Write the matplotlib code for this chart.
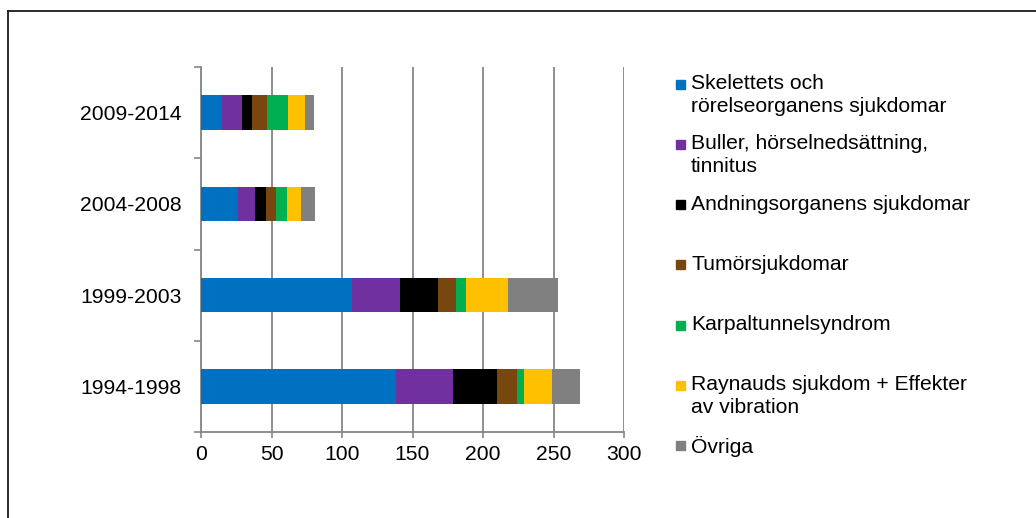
import numpy as np
import matplotlib.pyplot as plt
from matplotlib.lines import Line2D
from matplotlib.patches import Rectangle

plt.rcParams['font.family'] = ['Liberation Sans', 'DejaVu Sans']

periods = ['1994-1998', '1999-2003', '2004-2008', '2009-2014']
categories = ['Skelettets och\nrörelseorganens sjukdomar',
              'Buller, hörselnedsättning,\ntinnitus',
              'Andningsorganens sjukdomar',
              'Tumörsjukdomar',
              'Karpaltunnelsyndrom',
              'Raynauds sjukdom + Effekter\nav vibration',
              'Övriga']
colors = ['#0070C0', '#7030A0', '#000000', '#78460F', '#00B050', '#FFC000', '#808080']

# values per category, ordered like periods
skelett = [138, 107, 26, 15]
buller = [41, 34, 12, 14]
andning = [31, 27, 8, 7]
tumor = [14, 13, 7, 11]
karpal = [5, 7, 8, 15]
raynaud = [20, 30, 10, 12]
ovriga = [20, 35, 10, 6]
series = [skelett, buller, andning, tumor, karpal, raynaud, ovriga]

W, H = 1036, 518
fs = 15.2
fig = plt.figure(figsize=(W / 100, H / 100), dpi=100)
ax = fig.add_axes([201 / W, 1 - 432 / H, 423 / W, 365 / H])

y = np.arange(len(periods))
left = np.zeros(len(periods))
for vals, col in zip(series, colors):
    ax.barh(y, vals, left=left, height=0.38, color=col, zorder=3)
    left += np.array(vals)

ax.set_xlim(0, 300)
ax.set_ylim(-0.5, len(periods) - 0.5)
ax.set_xticks(np.arange(0, 301, 50))
ax.set_yticks(y)
ax.set_yticklabels(periods)
ax.set_yticks(np.arange(-0.5, len(periods)), minor=True)
ax.tick_params(axis='y', which='major', length=0, pad=14, labelsize=fs)
ax.tick_params(axis='y', which='minor', length=5, width=1.2, color='#868686')
ax.tick_params(axis='x', length=4, width=1.2, color='#868686', pad=5, labelsize=fs)
ax.grid(axis='x', color='#868686', linewidth=1.3, zorder=0)
for s in ['top', 'right']:
    ax.spines[s].set_visible(False)
for s in ['left', 'bottom']:
    ax.spines[s].set_color('#868686')
    ax.spines[s].set_linewidth(1.3)

# legend drawn by hand to match entry layout
lx = 680 / W
tx = 691 / W
for i, (lab, col) in enumerate(zip(categories, colors)):
    yp = 84 + i * 60.3
    fig.add_artist(Rectangle((lx - 4.5 / W, 1 - (yp + 4.5) / H), 9 / W, 9 / H,
                             transform=fig.transFigure, color=col))
    fig.text(tx, 1 - (yp - 10) / H, lab, fontsize=fs, va='top', ha='left',
             linespacing=1.25)

# outer frame
fig.add_artist(Line2D([8 / W, 1], [1 - 11 / H, 1 - 11 / H], color='#1a1a1a', lw=1.3,
                      transform=fig.transFigure))
fig.add_artist(Line2D([8 / W, 8 / W], [0, 1 - 11 / H], color='#1a1a1a', lw=1.3,
                      transform=fig.transFigure))

fig.savefig('out.png', dpi=100)
